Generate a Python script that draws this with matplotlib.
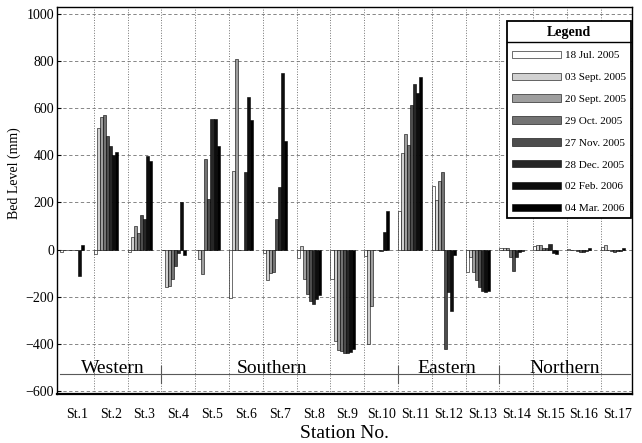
import numpy as np
import matplotlib
matplotlib.use('Agg')
import matplotlib.pyplot as plt
from matplotlib.lines import Line2D

plt.rcParams['font.family'] = ['Liberation Serif', 'DejaVu Serif']

stations = ['St.%d' % i for i in range(1, 18)]
dates = ['18 Jul. 2005', '03 Sept. 2005', '20 Sept. 2005', '29 Oct. 2005',
         '27 Nov. 2005', '28 Dec. 2005', '02 Feb. 2006', '04 Mar. 2006']

# bed level change (mm) per survey, St.1 ... St.17
jul18 = [-10, -20, -10, 0, 0, -205, -15, -37, -125, -28, 165, 270, -95, 5, 15, 2, 10]
sep03 = [0, 515, 55, -160, -40, 335, -130, 15, -390, -400, 410, 210, -30, 8, 20, 0, 20]
sep20 = [0, 560, 100, -155, -105, 810, -100, -125, -425, -240, 490, 290, -95, 8, 18, -3, 0]
oct29 = [0, 570, 70, -125, 385, 0, -95, -190, -432, 0, 445, 330, -130, -30, 8, -5, -8]
nov27 = [0, 480, 145, -70, 215, 0, 130, -220, -437, 0, 615, -420, -160, -90, 5, -10, -10]
dec28 = [0, 440, 130, -15, 555, 330, 265, -230, -440, -5, 700, -180, -175, -30, 25, -10, -8]
feb02 = [-112, 400, 395, 200, 555, 645, 750, -210, -435, 75, 665, -260, -180, -10, -15, -5, -5]
mar04 = [20, 415, 375, -25, 440, 550, 460, -195, -420, 165, 730, -25, -175, -5, -20, 5, 5]
series = [jul18, sep03, sep20, oct29, nov27, dec28, feb02, mar04]
colors = ['white', '0.82', '0.62', '0.45', '0.3', '0.15', '0.05', '0.0']

regions = ['Western', 'Southern', 'Eastern', 'Northern']
region_x = [1.57, 6.27, 11.45, 14.94]
region_edges = [3, 10, 13]

fig = plt.figure(figsize=(6.42, 4.43), dpi=100)
ax = fig.add_axes([0.0888, 0.111, 0.8956, 0.874])

x = np.arange(len(stations))
w = 0.09
for k, (vals, c) in enumerate(zip(series, colors)):
    ax.bar(x + w * (k + 0.5), vals, w, color=c, edgecolor='black',
           linewidth=0.4, label=dates[k], zorder=3)

# region band
ax.plot([0, 16.85], [-530, -530], color='0.35', lw=0.8, zorder=2)
for e in region_edges:
    ax.plot([e, e], [-565, -495], color='0.35', lw=0.8, zorder=2)
for name, rx in zip(regions, region_x):
    ax.text(rx, -522, name, ha='center', va='baseline', fontsize=14)

ax.set_xlim(-0.09, 16.92)
ax.set_ylim(-612, 1030)
ax.set_xticks(x + 0.5)
ax.set_xticklabels(stations, fontsize=10)
ax.set_xticks(np.arange(1, 17), minor=True)
ax.set_yticks(np.arange(-600, 1001, 200))
ax.tick_params(axis='y', labelsize=10, direction='in', length=3, pad=2)
ax.tick_params(axis='x', which='both', length=0, pad=10)
ax.yaxis.grid(True, linestyle=(0, (4, 3)), color='0.45', lw=0.6, zorder=0)
ax.xaxis.grid(True, which='minor', linestyle=':', color='0.45', lw=0.7, zorder=0)
ax.xaxis.grid(False, which='major')
for s in ax.spines.values():
    s.set_linewidth(1.0)
ax.spines['bottom'].set_linewidth(1.6)

ax.set_xlabel('Station No.', fontsize=14, labelpad=3)
ax.set_ylabel('Bed Level (mm)', fontsize=10)
ax.yaxis.set_label_coords(-0.062, 0.57)

leg = ax.legend(title='Legend', loc='upper right', bbox_to_anchor=(0.998, 0.964),
                prop={'size': 8}, title_fontproperties={'size': 10, 'weight': 'bold'},
                frameon=True, fancybox=False, edgecolor='black', framealpha=1,
                handlelength=4.4, handleheight=0.65, labelspacing=1.1,
                borderpad=0.45, handletextpad=0.35, borderaxespad=0)
leg.get_frame().set_linewidth(1.3)
leg.set_zorder(5)

# line under the legend title
fig.canvas.draw()
lb = leg.get_window_extent()
tb = leg.get_title().get_window_extent()
inv = fig.transFigure.inverted()
(x0, y0), (x1, _) = inv.transform([(lb.x0, tb.y0 - 3), (lb.x1, tb.y0 - 3)])
fig.add_artist(Line2D([x0, x1], [y0, y0], color='black', lw=1.0, zorder=6))

fig.savefig('out.png', dpi=100)
